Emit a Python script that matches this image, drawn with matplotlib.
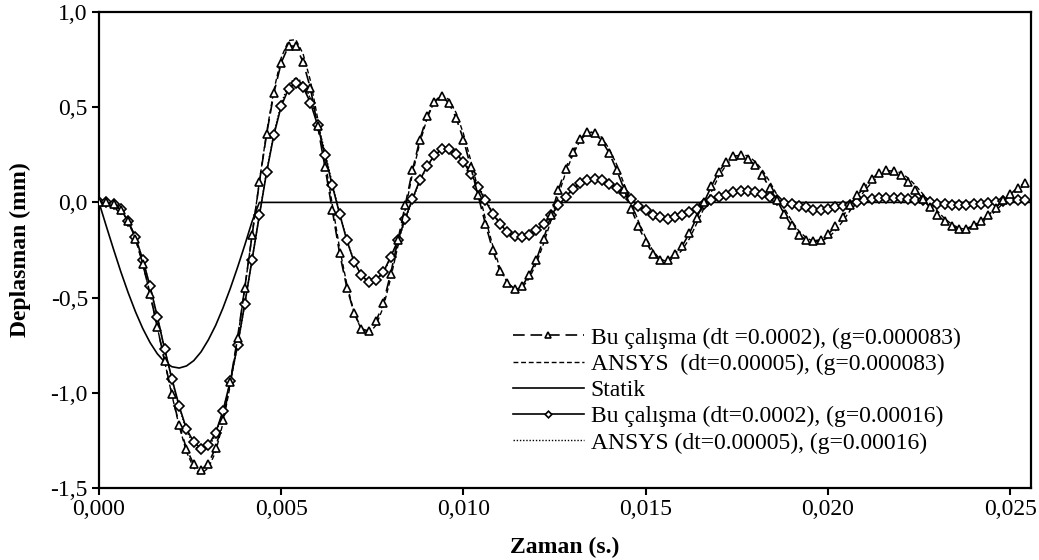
import numpy as np
import matplotlib
matplotlib.use("Agg")
import matplotlib.pyplot as plt

# ---------------- data ----------------
dt = 0.0002
bu_083 = [0.000, 0.000, -0.010, -0.040, -0.100, -0.190, -0.322, -0.480, -0.655, -0.833,
          -1.008, -1.168, -1.294, -1.376, -1.404, -1.372, -1.289, -1.145, -0.944, -0.713,
          -0.448, -0.173, 0.107, 0.360, 0.576, 0.734, 0.821, 0.821, 0.737, 0.600,
          0.400, 0.185, -0.040, -0.266, -0.448, -0.580, -0.664, -0.676, -0.625, -0.529,
          -0.375, -0.200, -0.016, 0.168, 0.329, 0.452, 0.527, 0.558, 0.522, 0.443,
          0.329, 0.185, 0.037, -0.112, -0.248, -0.361, -0.424, -0.453, -0.441, -0.383,
          -0.301, -0.190, -0.068, 0.063, 0.177, 0.264, 0.334, 0.369, 0.366, 0.322,
          0.259, 0.172, 0.072, -0.033, -0.126, -0.208, -0.270, -0.305, -0.305, -0.270,
          -0.229, -0.161, -0.080, 0.002, 0.084, 0.159, 0.212, 0.242, 0.247, 0.230,
          0.194, 0.142, 0.077, 0.010, -0.060, -0.121, -0.173, -0.196, -0.203, -0.196,
          -0.168, -0.126, -0.077, -0.016, 0.037, 0.080, 0.124, 0.154, 0.168, 0.163,
          0.142, 0.107, 0.067, 0.020, -0.025, -0.068, -0.098, -0.126, -0.138, -0.138,
          -0.121, -0.098, -0.068, -0.028, 0.010, 0.042, 0.077, 0.101]

ansys_083 = [0.000, 0.000, -0.010, -0.040, -0.100, -0.190, -0.322, -0.480, -0.655, -0.835,
             -1.012, -1.175, -1.310, -1.395, -1.425, -1.395, -1.310, -1.160, -0.960, -0.720,
             -0.450, -0.170, 0.110, 0.370, 0.590, 0.760, 0.850, 0.855, 0.780, 0.640,
             0.440, 0.220, -0.010, -0.240, -0.430, -0.580, -0.670, -0.690, -0.645, -0.550,
             -0.400, -0.230, -0.040, 0.150, 0.310, 0.440, 0.530, 0.565, 0.540, 0.470,
             0.360, 0.220, 0.070, -0.085, -0.225, -0.345, -0.420, -0.455, -0.450, -0.400,
             -0.320, -0.215, -0.095, 0.035, 0.155, 0.250, 0.325, 0.365, 0.372, 0.340,
             0.280, 0.200, 0.100, 0.000, -0.100, -0.185, -0.255, -0.300, -0.310, -0.290,
             -0.250, -0.190, -0.110, -0.030, 0.055, 0.135, 0.195, 0.235, 0.250, 0.245,
             0.215, 0.170, 0.110, 0.040, -0.030, -0.095, -0.150, -0.185, -0.205, -0.205,
             -0.185, -0.150, -0.100, -0.045, 0.010, 0.060, 0.105, 0.140, 0.162, 0.168,
             0.155, 0.128, 0.090, 0.045, 0.000, -0.045, -0.085, -0.115, -0.135, -0.142,
             -0.132, -0.110, -0.080, -0.045, -0.005, 0.030, 0.065, 0.090]

static_t = [0.0000, 0.0002, 0.0004, 0.0006, 0.0008, 0.0010, 0.0012, 0.0014, 0.0016, 0.0018,
            0.0020, 0.0022, 0.0024, 0.0026, 0.0028, 0.0030, 0.0032, 0.0034, 0.0036, 0.0038,
            0.0040, 0.0042, 0.0044, 0.0256]
static_v = [0.000, -0.125, -0.247, -0.365, -0.474, -0.574, -0.662, -0.736, -0.795, -0.838,
            -0.863, -0.870, -0.859, -0.831, -0.785, -0.722, -0.646, -0.555, -0.453, -0.342,
            -0.224, -0.100, 0.000, 0.000]

bu_016 = [0.000, 0.000, -0.010, -0.037, -0.098, -0.182, -0.300, -0.440, -0.600, -0.770,
          -0.926, -1.070, -1.190, -1.259, -1.294, -1.276, -1.210, -1.096, -0.940, -0.751,
          -0.532, -0.300, -0.068, 0.160, 0.356, 0.506, 0.597, 0.628, 0.606, 0.524,
          0.404, 0.250, 0.089, -0.060, -0.200, -0.313, -0.383, -0.418, -0.406, -0.366,
          -0.287, -0.200, -0.086, 0.019, 0.116, 0.190, 0.247, 0.278, 0.278, 0.256,
          0.212, 0.151, 0.080, 0.010, -0.060, -0.112, -0.156, -0.179, -0.182, -0.170,
          -0.147, -0.112, -0.068, -0.016, 0.028, 0.072, 0.101, 0.119, 0.124, 0.116,
          0.098, 0.077, 0.049, 0.016, -0.021, -0.042, -0.065, -0.077, -0.086, -0.077,
          -0.065, -0.051, -0.033, -0.007, 0.014, 0.028, 0.040, 0.054, 0.059, 0.058,
          0.054, 0.042, 0.028, 0.010, -0.004, -0.011, -0.021, -0.025, -0.038, -0.038,
          -0.033, -0.025, -0.021, -0.016, 0.002, 0.014, 0.019, 0.025, 0.025, 0.025,
          0.025, 0.019, 0.014, 0.010, 0.002, -0.007, -0.011, -0.012, -0.012, -0.012,
          -0.011, -0.007, -0.002, 0.002, 0.005, 0.010, 0.010, 0.010]

ansys_016 = [0.000, 0.000, -0.010, -0.037, -0.098, -0.182, -0.300, -0.442, -0.602, -0.772,
             -0.930, -1.075, -1.200, -1.275, -1.310, -1.290, -1.220, -1.100, -0.945, -0.755,
             -0.535, -0.300, -0.065, 0.165, 0.365, 0.520, 0.620, 0.655, 0.630, 0.545,
             0.420, 0.265, 0.100, -0.055, -0.195, -0.310, -0.385, -0.420, -0.410, -0.370,
             -0.295, -0.205, -0.095, 0.012, 0.110, 0.188, 0.245, 0.280, 0.282, 0.260,
             0.218, 0.158, 0.088, 0.018, -0.052, -0.108, -0.152, -0.178, -0.184, -0.172,
             -0.150, -0.116, -0.072, -0.022, 0.024, 0.068, 0.099, 0.118, 0.125, 0.118,
             0.100, 0.080, 0.052, 0.020, -0.016, -0.040, -0.062, -0.076, -0.085, -0.079,
             -0.067, -0.053, -0.036, -0.010, 0.011, 0.026, 0.038, 0.052, 0.058, 0.058,
             0.055, 0.044, 0.030, 0.013, -0.002, -0.010, -0.019, -0.025, -0.036, -0.038,
             -0.034, -0.027, -0.022, -0.017, -0.001, 0.012, 0.018, 0.024, 0.025, 0.025,
             0.025, 0.020, 0.015, 0.011, 0.004, -0.005, -0.010, -0.012, -0.012, -0.012,
             -0.011, -0.008, -0.003, 0.001, 0.004, 0.009, 0.010, 0.010]

labels = ["Bu çalışma (dt =0.0002), (g=0.000083)",
          "ANSYS  (dt=0.00005), (g=0.000083)",
          "Statik",
          "Bu çalışma (dt=0.0002), (g=0.00016)",
          "ANSYS (dt=0.00005), (g=0.00016)"]
xticks = [0.000, 0.005, 0.010, 0.015, 0.020, 0.025]
xtick_labels = ["0,000", "0,005", "0,010", "0,015", "0,020", "0,025"]
yticks = [1.0, 0.5, 0.0, -0.5, -1.0, -1.5]
ytick_labels = ["1,0", "0,5", "0,0", "-0,5", "-1,0", "-1,5"]
xlabel = "Zaman (s.)"
ylabel = "Deplasman (mm)"

t = np.arange(len(bu_083)) * dt

# ---------------- plot ----------------
plt.rcParams['font.family'] = ['Liberation Serif', 'DejaVu Serif']
fig = plt.figure(figsize=(10.39, 5.60), dpi=100)
ax = fig.add_axes([99/1039, 1 - 488/560, (1031-99)/1039, (488-12)/560])

fs = 17
ax.plot(t, ansys_083, color='black', lw=1.0, ls=(0, (3.5, 2.0)), label=labels[1], zorder=3)
ax.plot(static_t, static_v, color='black', lw=1.2, ls='-', label=labels[2], zorder=2)
ax.plot(t, ansys_016, color='black', lw=1.0, ls=(0, (1, 1.3)), label=labels[4], zorder=3)
ax.plot(t, bu_016, color='black', lw=1.2, ls='-', marker='D', ms=4.8, mfc='white', mec='black',
        mew=1.2, label=labels[3], zorder=4)
ax.plot(t, bu_083, color='black', lw=1.2, ls=(0, (7, 3.5)), marker='^', ms=6.3, mfc='white',
        mec='black', mew=1.2, label=labels[0], zorder=5)

ax.set_xlim(0, 0.02557)
ax.set_ylim(-1.5, 1.0)
ax.set_xticks(xticks)
ax.set_xticklabels(xtick_labels, fontsize=fs)
ax.set_yticks(yticks)
ax.set_yticklabels(ytick_labels, fontsize=fs)
ax.tick_params(direction='out', length=5, width=1.5, pad=3)
for s in ax.spines.values():
    s.set_linewidth(1.6)
ax.set_xlabel(xlabel, fontsize=fs, fontweight='bold', labelpad=12)
ax.set_ylabel(ylabel, fontsize=fs, fontweight='bold', labelpad=14)

h, l = ax.get_legend_handles_labels()
hd = {lab: hh for hh, lab in zip(h, l)}
leg = ax.legend([hd[x] for x in labels], labels, loc='upper left',
                bbox_to_anchor=(0.444, 0.338), frameon=False, fontsize=fs,
                handlelength=3.0, handletextpad=0.3, labelspacing=0.2,
                borderpad=0, borderaxespad=0, markerscale=0.7)

fig.savefig("out.png", dpi=100)
